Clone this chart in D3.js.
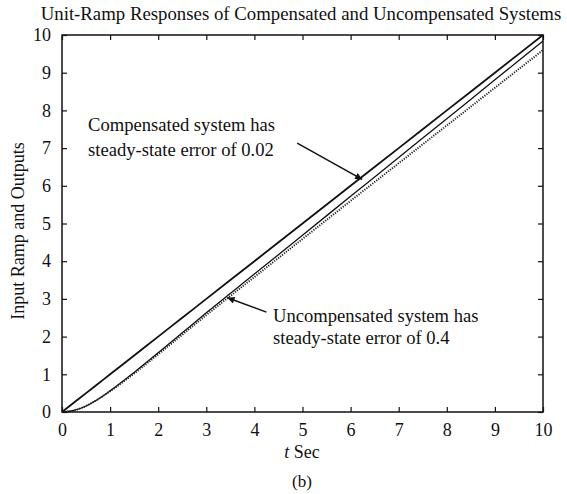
<!DOCTYPE html>
<html><head><meta charset="utf-8">
<script src="https://cdn.jsdelivr.net/npm/d3@7"></script>
<style>body{margin:0;background:#fff}svg{display:block}</style>
</head><body><svg id="c" width="567" height="494"></svg>
<script>
const tValues = [0, 0.25, 0.5, 0.75, 1, 1.5, 2, 2.5, 3, 4, 5, 6, 7, 8, 9, 10];
const rampInput = [0, 0.25, 0.5, 0.75, 1, 1.5, 2, 2.5, 3, 4, 5, 6, 7, 8, 9, 10];
const compensated = [0, 0.04, 0.16, 0.34, 0.56, 1.05, 1.57, 2.10, 2.63, 3.66, 4.69, 5.72, 6.75, 7.78, 8.81, 9.84];
const uncompensated = [0, 0.04, 0.16, 0.34, 0.55, 1.02, 1.53, 2.05, 2.57, 3.58, 4.59, 5.60, 6.60, 7.60, 8.60, 9.60];
const xTicks = [0,1,2,3,4,5,6,7,8,9,10];
const yTicks = [0,1,2,3,4,5,6,7,8,9,10];
const titleText = "Unit-Ramp Responses of Compensated and Uncompensated Systems";
const compNote = ["Compensated system has", "steady-state error of 0.02"];
const uncompNote = ["Uncompensated system has", "steady-state error of 0.4"];

const FONT = "'Liberation Serif','Times New Roman',serif";
const svg = d3.select("#c");
const L = 62, R = 543, T = 35, B = 412;
const x = d3.scaleLinear().domain([0,10]).range([L,R]);
const y = d3.scaleLinear().domain([0,10]).range([B,T]);

const txt = (g) => g.attr("font-family", FONT).attr("fill", "#111");

svg.append("text").call(txt).attr("x",301).attr("y",20).attr("text-anchor","middle").attr("font-size",18.8).text(titleText);

// box
svg.append("rect").attr("x",L).attr("y",T).attr("width",R-L).attr("height",B-T).attr("fill","none").attr("stroke","#111").attr("stroke-width",1.5);

const ax = (g)=>g.selectAll(".domain").remove();
svg.append("g").attr("transform",`translate(0,${B})`).call(d3.axisBottom(x).tickValues(xTicks).tickFormat(d3.format("d")).tickSizeInner(-5).tickSizeOuter(0).tickPadding(11)).call(ax);
svg.append("g").attr("transform",`translate(0,${T})`).call(d3.axisTop(x).tickValues(xTicks).tickFormat("").tickSizeInner(-5).tickSizeOuter(0)).call(ax);
svg.append("g").attr("transform",`translate(${L},0)`).call(d3.axisLeft(y).tickValues(yTicks).tickFormat(d3.format("d")).tickSizeInner(-5).tickSizeOuter(0).tickPadding(11)).call(ax);
svg.append("g").attr("transform",`translate(${R},0)`).call(d3.axisRight(y).tickValues(yTicks).tickFormat("").tickSizeInner(-5).tickSizeOuter(0)).call(ax);
svg.selectAll("g").attr("font-family", FONT).attr("font-size", 18);
svg.selectAll(".tick line").attr("stroke","#111").attr("stroke-width",1.2);
svg.selectAll(".tick text").attr("fill","#111");

const line = d3.line().x((d,i)=>x(tValues[i])).y(d=>y(d)).curve(d3.curveMonotoneX);
svg.append("path").datum(rampInput).attr("d",line).attr("fill","none").attr("stroke","#111").attr("stroke-width",1.8);
svg.append("path").datum(compensated).attr("d",line).attr("fill","none").attr("stroke","#111").attr("stroke-width",1.3);
svg.append("path").datum(uncompensated).attr("d",line).attr("fill","none").attr("stroke","#222").attr("stroke-width",1.9).attr("stroke-dasharray","1.2,1.3");

// axis labels
svg.append("text").call(txt).attr("x",302).attr("y",458).attr("text-anchor","middle").attr("font-size",18)
  .html('<tspan font-style="italic">t</tspan> Sec');
svg.append("text").call(txt).attr("transform","translate(24,231) rotate(-90)").attr("text-anchor","middle").attr("font-size",18).text("Input Ramp and Outputs");
svg.append("text").call(txt).attr("x",302).attr("y",487).attr("text-anchor","middle").attr("font-size",17).text("(b)");

// annotations
svg.append("defs").append("marker").attr("id","ah").attr("viewBox","0 0 10 10").attr("refX",10).attr("refY",5)
  .attr("markerWidth",9).attr("markerHeight",7).attr("orient","auto").attr("markerUnits","userSpaceOnUse")
  .append("path").attr("d","M0,0L10,5L0,10z").attr("fill","#111");
compNote.forEach((s,i)=>svg.append("text").call(txt).attr("x",88).attr("y",131+i*25).attr("font-size",18.6).text(s));
uncompNote.forEach((s,i)=>svg.append("text").call(txt).attr("x",273).attr("y",322+i*22).attr("font-size",18.6).text(s));
svg.append("line").attr("x1",x(4.89)).attr("y1",y(7.13)).attr("x2",x(6.24)).attr("y2",y(6.17)).attr("stroke","#111").attr("stroke-width",1.5).attr("marker-end","url(#ah)");
svg.append("line").attr("x1",x(4.25)).attr("y1",y(2.65)).attr("x2",x(3.44)).attr("y2",y(3.03)).attr("stroke","#111").attr("stroke-width",1.5).attr("marker-end","url(#ah)");
</script></body></html>
